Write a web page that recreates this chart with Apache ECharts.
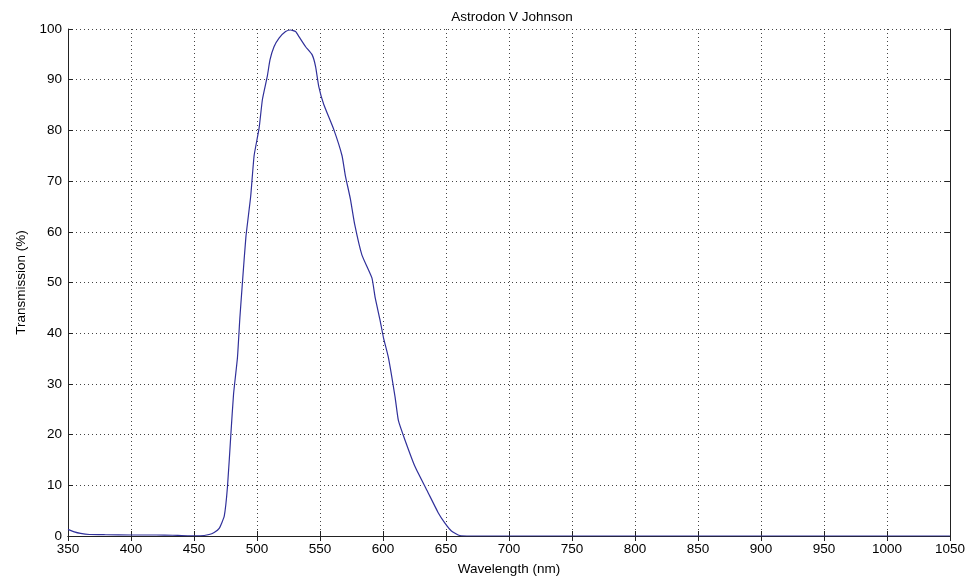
<!DOCTYPE html>
<html>
<head>
<meta charset="utf-8">
<script src="https://cdn.jsdelivr.net/npm/echarts@6/dist/echarts.min.js"></script>
<style>html,body{margin:0;padding:0;background:#fff;}#c{width:968px;height:581px;}</style>
</head>
<body>
<div id="c"></div>
<script>
const wavelengths = [350,355,360,367,380,400,420,433,445,455,462,466,470,474,476.6,479.3,481.4,484.5,486.4,488.5,491.2,495,497.7,501.7,504.3,508.2,510.3,513.5,517.5,522.7,526.7,530.6,533.3,538.6,543.8,546.5,549,553,560.9,567.5,570.1,574.1,577.5,583.3,591.2,593.8,597.8,600.4,604.3,609.6,612.2,617.5,625.4,635.9,643.8,649,654.3,660.9,670,700,800,900,1000,1050];
const transmission = [1.3,0.8,0.5,0.3,0.25,0.2,0.2,0.15,0.05,0.05,0.3,0.7,1.5,3.9,9.8,20.2,28,35.2,43,50.2,59,67,75,80.5,86.1,90.7,93.9,96.5,98.2,99.5,99.8,99.5,98.5,96.5,94.9,92.6,88.7,85.1,80.2,75,71.1,66.5,61.5,55.4,50.9,47,42.4,39.1,35.2,27.4,22.8,18.9,13.7,8.5,4.6,2.6,1,0.1,0,0,0,0,0,0];
const title = 'Astrodon V Johnson';
const xName = 'Wavelength (nm)';
const yName = 'Transmission (%)';

const FONT = 'Liberation Sans';
const FS = 13.5;
const chart = echarts.init(document.getElementById('c'), null, {renderer: 'canvas'});
const axisLineStyle = {color: '#222', width: 1};
const tick = {show: true, inside: true, length: 5, lineStyle: {color: '#222'}};
const split = {show: true, lineStyle: {color: '#444', type: [1, 3], width: 1}};
chart.setOption({
  animation: false,
  backgroundColor: '#fff',
  title: {text: title, left: 507, top: 5, textAlign: 'center',
    textStyle: {fontFamily: FONT, fontSize: FS, fontWeight: 'normal', color: '#000'}},
  grid: {left: 68, right: 16, top: 29, bottom: 41},
  xAxis: [{
    type: 'value', min: 350, max: 1050, interval: 50,
    name: xName, nameLocation: 'middle', nameGap: 26,
    nameTextStyle: {fontFamily: FONT, fontSize: FS, color: '#000'},
    axisLine: {show: true, lineStyle: axisLineStyle},
    axisTick: tick, splitLine: split,
    axisLabel: {fontFamily: FONT, fontSize: FS, color: '#000', margin: 6, formatter: v => String(v)}
  }, {
    type: 'value', min: 350, max: 1050, interval: 50, position: 'top',
    axisLine: {show: true, lineStyle: axisLineStyle},
    axisTick: tick, splitLine: {show: false}, axisLabel: {show: false}
  }],
  yAxis: [{
    type: 'value', min: 0, max: 100, interval: 10,
    name: yName, nameLocation: 'middle', nameGap: 40, nameRotate: 90,
    nameTextStyle: {fontFamily: FONT, fontSize: FS, color: '#000'},
    axisLine: {show: true, lineStyle: axisLineStyle},
    axisTick: tick, splitLine: split,
    axisLabel: {fontFamily: FONT, fontSize: FS, color: '#000', margin: 6}
  }, {
    type: 'value', min: 0, max: 100, interval: 10, position: 'right',
    axisLine: {show: true, lineStyle: axisLineStyle},
    axisTick: tick, splitLine: {show: false}, axisLabel: {show: false}
  }],
  series: [{
    type: 'line', xAxisIndex: 0, yAxisIndex: 0,
    data: wavelengths.map((w, i) => [w, transmission[i]]),
    showSymbol: false, smooth: 0.15,
    lineStyle: {color: '#30309a', width: 1.2}
  }]
});
</script>
</body>
</html>
